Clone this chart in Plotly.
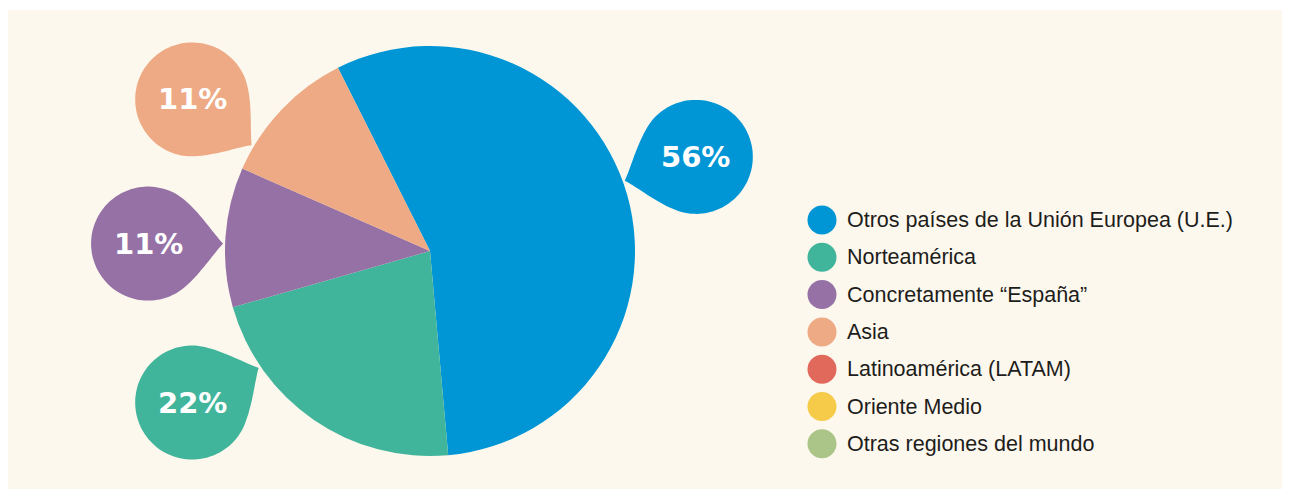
import numpy as np
import plotly.graph_objects as go

# --- Data ---
regions = [
    "Otros países de la Unión Europea (U.E.)",
    "Norteamérica",
    "Concretamente “España”",
    "Asia",
    "Latinoamérica (LATAM)",
    "Oriente Medio",
    "Otras regiones del mundo",
]
shares = [56, 22, 11, 11, 0, 0, 0]
colors = ["#0096D6", "#41B59B", "#9571A6", "#EEAA84", "#E0695C", "#F6CB4A", "#ABC487"]

# --- Layout constants (page pixels) ---
W, H = 1290, 489
OFF = 8                          # the page body margin pushes the plot 8px in
BG = "#FDF8EE"
cx, cy, R = 430, 251, 205        # pie centre / radius
start_angle = -26.7              # first slice begins here (deg, clockwise from 12 o'clock)
bubble_dist, bubble_r, bubble_tip = 282, 57, 75
# direction of each callout bubble seen from the pie centre, and a small turn of its tail
callout_angle = {regions[0]: 70.5, regions[1]: 237.5, regions[2]: 271.5, regions[3]: 302.5}
tail_turn = {regions[0]: 1, regions[1]: 5, regions[2]: -1.5, regions[3]: 5}
leg_x, leg_y0, leg_dy = 822, 220, 37.3

fw, fh = W - OFF, H - OFF

fig = go.Figure()

# pie, placed so that its pixel box matches the layout constants
fig.add_trace(go.Pie(
    labels=regions,
    values=shares,
    sort=False,
    direction="clockwise",
    rotation=start_angle,
    marker=dict(colors=colors, line=dict(width=0)),
    textinfo="none",
    hoverinfo="label+percent",
    showlegend=False,
    domain=dict(x=[(cx - R - OFF) / fw, (cx + R - OFF) / fw],
                y=[(H - cy - R) / fh, (H - cy + R) / fh]),
))


def teardrop(bx, by, turn=0.0):
    # pin-like drop: circle plus a tail whose sides curve in towards the tip
    phi = np.arctan2(cy - by, cx - bx) + np.radians(turn)
    r, L = bubble_r, bubble_tip
    a1, beta = np.radians(62), np.radians(44)
    s = np.linspace(0, 1, 24)[:, None]

    def side(sign):
        p0 = np.array([r * np.cos(a1), sign * r * np.sin(a1)])
        p1 = p0 + 22 * np.array([np.sin(a1), -sign * np.cos(a1)])
        p3 = np.array([L, 0.0])
        p2 = p3 + 13 * np.array([-np.cos(beta), sign * np.sin(beta)])
        return ((1 - s) ** 3 * p0 + 3 * (1 - s) ** 2 * s * p1
                + 3 * (1 - s) * s ** 2 * p2 + s ** 3 * p3)

    t = np.linspace(a1, 2 * np.pi - a1, 90)
    arc = np.column_stack([r * np.cos(t), r * np.sin(t)])
    local = np.vstack([side(-1), side(1)[::-1], arc])
    rot = np.array([[np.cos(phi), -np.sin(phi)], [np.sin(phi), np.cos(phi)]])
    pts = local @ rot.T + [bx, by]
    return "M " + " L ".join(f"{x:.1f},{y:.1f}" for x, y in pts) + " Z"


# thin white strip along the top, the rest of the page is cream
shapes = [dict(type="rect", xref="x", yref="y", x0=OFF, x1=W, y0=OFF, y1=10,
               fillcolor="white", line=dict(width=0), layer="below")]
annotations = []
for name, v, col in zip(regions, shares, colors):
    if v <= 0:
        continue
    a = np.radians(callout_angle[name])
    bx = cx + bubble_dist * np.sin(a)
    by = cy - bubble_dist * np.cos(a)
    shapes.append(dict(type="path", xref="x", yref="y", path=teardrop(bx, by, tail_turn[name]),
                       fillcolor=col, line=dict(width=0), layer="above"))
    annotations.append(dict(x=bx, y=by, xref="x", yref="y", text=f"<b>{v}%</b>",
                            showarrow=False, xanchor="center", yanchor="middle",
                            font=dict(family="DejaVu Sans", size=29, color="white")))

# legend drawn by hand: round swatches + labels
leg_y = [leg_y0 + i * leg_dy for i in range(len(regions))]
fig.add_trace(go.Scatter(
    x=[leg_x] * len(regions), y=leg_y, mode="markers",
    marker=dict(size=29, color=colors, line=dict(width=0)),
    hoverinfo="skip", showlegend=False,
))
for name, y in zip(regions, leg_y):
    annotations.append(dict(x=leg_x + 23, y=y, xref="x", yref="y", text=name,
                            showarrow=False, xanchor="left", yanchor="middle",
                            font=dict(family="Liberation Sans", size=21.5, color="#1D1D1B")))

fig.update_layout(
    width=fw,
    height=fh,
    margin=dict(l=0, r=0, t=0, b=0),
    paper_bgcolor=BG,
    plot_bgcolor=BG,
    showlegend=False,
    shapes=shapes,
    annotations=annotations,
    xaxis=dict(range=[OFF, W], visible=False, fixedrange=True),
    yaxis=dict(range=[H, OFF], visible=False, fixedrange=True),
)

fig.write_html("out.html")
